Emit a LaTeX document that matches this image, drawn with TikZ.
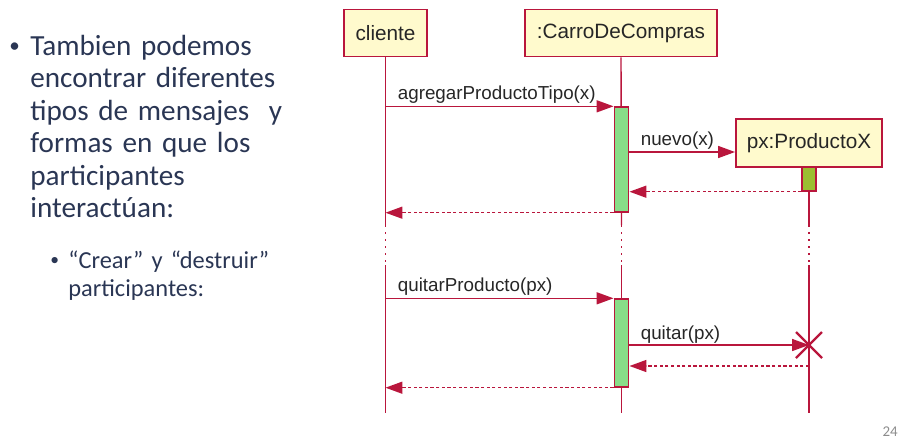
\documentclass[tikz,border=0pt]{standalone}
\usepackage{fontspec}
\setmainfont{Liberation Sans}
\newfontfamily\slidefont{Carlito}
\usetikzlibrary{positioning}
\usetikzlibrary{calc}
\usetikzlibrary{math}
\usetikzlibrary{arrows.meta}
\usetikzlibrary{backgrounds}

\definecolor{umlred}{RGB}{185,22,60}
\definecolor{umlyellow}{RGB}{255,250,205}
\definecolor{umlgreen}{RGB}{136,221,136}
\definecolor{umlolive}{RGB}{155,190,50}
\definecolor{slidetext}{RGB}{42,54,84}

\tikzset{
  lifehead/.style={draw=umlred, line width=1.1pt, fill=umlyellow, inner sep=0pt,
    minimum height=0.94cm, font=\fontsize{11.8}{14}\selectfont, text=black!85},
  activation/.style={draw=umlred, line width=0.8pt, fill=umlgreen, inner sep=0pt,
    minimum width=0.29cm},
  lifeline/.style={umlred, line width=0.8pt},
  gapline/.style={umlred, line width=0.8pt, dash pattern=on 1pt off 3pt},
  msg/.style={umlred, line width=0.85pt, -{Triangle[length=9.6pt,width=6.8pt]}},
  reply/.style={msg, dash pattern=on 1.8pt off 1.4pt},
  msglabel/.style={anchor=base west, inner sep=0pt,
    font=\fontsize{10.7}{13}\selectfont, text=black!85},
  slidebody/.style={anchor=base west, inner sep=0pt, align=left, text=slidetext},
  bigtext/.style={font=\slidefont\fontsize{16.6}{18.5}\selectfont},
  smalltext/.style={font=\slidefont\fontsize{13.9}{16.4}\selectfont},
}

\begin{document}
\begin{tikzpicture}[x=0.02cm, y=-0.02cm]
  \useasboundingbox (0,0) rectangle (900,441);

  \tikzmath{
    \gaptop  = 225; % where the lifelines turn dotted
    \gapbot  = 265; % where they turn solid again
    \lineend = 413; % bottom of all lifelines
  }

  % Slide text on the left
  \node[slidebody, font=\slidefont\fontsize{12}{14}\selectfont] (dot1) at (9,52) {•};
  \node[slidebody, bigtext, text width=6.2cm]
    (intro) at (30,55) {Tambien podemos\\encontrar diferentes\\tipos de mensajes~ y\\formas en que los\\participantes\\interactúan:};
  \node[slidebody, font=\slidefont\fontsize{10}{12}\selectfont] (dot2) at (50,265) {•};
  \node[slidebody, smalltext, text width=5.2cm]
    (sub) at (68,268) {“Crear” y “destruir”\\participantes:};
  \node[anchor=base east, inner sep=0pt, text=black!45,
    font=\slidefont\fontsize{8.5}{10}\selectfont] (page) at (898,436) {24};

  % Participants
  \node[lifehead, minimum width=1.66cm] (cli) at (385.5,33) {cliente};
  \node[lifehead, minimum width=3.84cm] (car) at (621,33) {:CarroDeCompras};
  \node[lifehead, minimum width=2.92cm, minimum height=0.96cm] (prd) at (809,143) {px:ProductoX};

  % Activation bars
  \node[activation, minimum height=2.1cm] (act1) at (621.5,159.5) {};
  \node[activation, fill=umlolive, minimum height=0.48cm, minimum width=0.28cm] (act2) at (809,179) {};
  \node[activation, minimum height=1.76cm] (act3) at (621.5,343) {};

  % Points on the lifelines
  \coordinate (cli top) at (cli.south |- 0,\gaptop);
  \coordinate (cli bot) at (cli.south |- 0,\gapbot);
  \coordinate (cli end) at (cli.south |- 0,\lineend);
  \coordinate (car top) at (act1.south |- 0,\gaptop);
  \coordinate (car bot) at (act1.south |- 0,\gapbot);
  \coordinate (car end) at (act1.south |- 0,\lineend);
  \coordinate (prd top) at (act2.south |- 0,\gaptop);
  \coordinate (prd bot) at (act2.south |- 0,\gapbot);
  \coordinate (prd end) at (act2.south |- 0,\lineend);
  \coordinate (new) at (700,152);
  \coordinate (kill) at (809,345);
  \coordinate (back) at (809,366);

  % Lifelines
  \begin{scope}[on background layer]
    \draw[lifeline] (cli.south) -- (cli top);
    \draw[gapline]  (cli top) -- (cli bot);
    \draw[lifeline] (cli bot) -- (cli end);
    \draw[lifeline] (car.south) -- (car top);
    \draw[gapline]  (car top) -- (car bot);
    \draw[lifeline] (car bot) -- (car end);
    \draw[lifeline] (act2.south) -- (prd top);
    \draw[gapline]  (prd top) -- (prd bot);
    \draw[lifeline] (prd bot) -- (prd end);
  \end{scope}

  % Creating px
  \draw[msg] (cli.south |- act1.north) -- (act1.north west);
  \node[msglabel] (m1) at ($(cli.south |- act1.north)+(12,-7)$) {agregarProductoTipo(x)};
  \draw[msg] (act1.east |- new) -- (prd.west |- new);
  \node[msglabel] (m2) at ($(act1.east |- new)+(11,-7)$) {nuevo(x)};
  \draw[reply] (act2.south west) -- (act1.east |- act2.south);
  \draw[reply] (act1.south west) -- (cli.south |- act1.south);

  % Destroying px
  \draw[msg] (cli.south |- act3.north) -- (act3.north west);
  \node[msglabel] (m3) at ($(cli.south |- act3.north)+(12,-7)$) {quitarProducto(px)};
  \draw[msg] (act3.east |- kill) -- (kill);
  \node[msglabel] (m4) at ($(act3.east |- kill)+(11,-6)$) {quitar(px)};
  \draw[umlred, line width=1.3pt] ($(kill)+(-13,-13)$) -- ($(kill)+(13,13)$);
  \draw[umlred, line width=1.3pt] ($(kill)+(-13,13)$) -- ($(kill)+(13,-13)$);
  \draw[reply] (back) -- (act3.east |- back);
  \draw[reply] (act3.south west) -- (cli.south |- act3.south);

\end{tikzpicture}
\end{document}
